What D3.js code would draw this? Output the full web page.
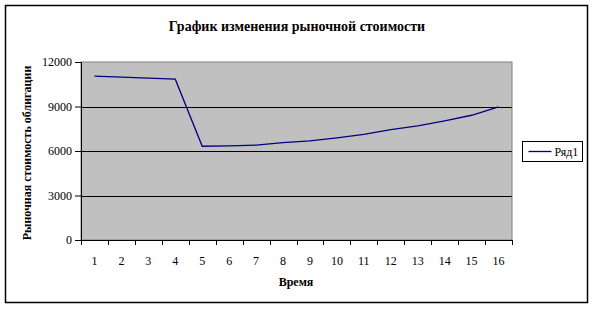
<!DOCTYPE html>
<html>
<head>
<meta charset="utf-8">
<script src="https://cdn.jsdelivr.net/npm/d3@7"></script>
<style>
  body { margin: 0; background: #fff; }
  svg text { font-family: "Liberation Serif", "DejaVu Serif", serif !important; }
</style>
</head>
<body>
<div id="chart"></div>
<script>
// categories (time periods)
const periods = ["1","2","3","4","5","6","7","8","9","10","11","12","13","14","15","16"];
// market value of the bond
const values = [11050, 10980, 10910, 10840, 6320, 6350, 6400, 6560, 6680, 6880, 7120, 7440, 7690, 8030, 8410, 8970];
const yTicks = [0, 3000, 6000, 9000, 12000];
const seriesName = "Ряд1";
const title = "График изменения рыночной стоимости";
const xTitle = "Время";
const yTitle = "Рыночная стоимость облигации";

const width = 593, height = 310;
const margin = { left: 81, right: 81, top: 62, bottom: 70 };
const plotW = 512 - margin.left;
const plotH = 240 - margin.top;

const svg = d3.select("#chart").append("svg")
  .attr("width", width)
  .attr("height", height)
  .attr("font-family", "Liberation Serif, serif");

// outer frame
svg.append("rect")
  .attr("x", 5.5).attr("y", 5.5)
  .attr("width", 582).attr("height", 297)
  .attr("fill", "#fff")
  .attr("stroke", "#000")
  .attr("stroke-width", 1.5);

svg.append("text")
  .attr("x", 297).attr("y", 31)
  .attr("text-anchor", "middle")
  .attr("font-size", 14)
  .attr("font-weight", "bold")
  .text(title);

const g = svg.append("g").attr("transform", `translate(${margin.left},${margin.top})`);

const x = d3.scaleBand().domain(periods).range([0, plotW]);
const y = d3.scaleLinear().domain([0, 12000]).range([plotH, 0]);

// plot area
g.append("rect")
  .attr("width", plotW).attr("height", plotH)
  .attr("fill", "#c0c0c0")
  .attr("stroke", "#808080")
  .attr("stroke-width", 1);

// gridlines
g.selectAll(".grid")
  .data(yTicks.filter(d => d > 0 && d < 12000))
  .enter().append("line")
  .attr("x1", 0).attr("x2", plotW)
  .attr("y1", d => Math.round(y(d)) + 0.5)
  .attr("y2", d => Math.round(y(d)) + 0.5)
  .attr("stroke", "#000");

// y axis
const yAxis = g.append("g")
  .call(d3.axisLeft(y).tickValues(yTicks).tickFormat(d3.format("d")).tickSize(6).tickPadding(3));
yAxis.attr("font-family", null);
yAxis.select(".domain").attr("stroke", "#000");
yAxis.selectAll("text").attr("font-size", 12).attr("fill", "#000");

// x axis with ticks between categories
const xAxisG = g.append("g").attr("transform", `translate(0,${plotH})`);
xAxisG.append("line")
  .attr("x1", 0).attr("x2", plotW)
  .attr("y1", 0.5).attr("y2", 0.5)
  .attr("stroke", "#000");
const edges = periods.map((p) => x(p)).concat([plotW]);
xAxisG.selectAll(".tk").data(edges).enter().append("line")
  .attr("x1", d => Math.round(d) + 0.5).attr("x2", d => Math.round(d) + 0.5)
  .attr("y1", 0).attr("y2", 5)
  .attr("stroke", "#000");
xAxisG.selectAll(".lbl").data(periods).enter().append("text")
  .attr("x", d => x(d) + x.bandwidth() / 2)
  .attr("y", 25)
  .attr("text-anchor", "middle")
  .attr("font-size", 12)
  .text(d => d);

// line
const line = d3.line()
  .x((d, i) => x(periods[i]) + x.bandwidth() / 2)
  .y(d => y(d));
g.append("path")
  .datum(values)
  .attr("fill", "none")
  .attr("stroke", "#000080")
  .attr("stroke-width", 1.3)
  .attr("d", line);

// axis titles
svg.append("text")
  .attr("x", 296).attr("y", 286)
  .attr("text-anchor", "middle")
  .attr("font-size", 12)
  .attr("font-weight", "bold")
  .text(xTitle);

svg.append("text")
  .attr("transform", `translate(31,153) rotate(-90)`)
  .attr("text-anchor", "middle")
  .attr("font-size", 12)
  .attr("font-weight", "bold")
  .text(yTitle);

// legend
const lg = svg.append("g").attr("transform", "translate(522.5,141.5)");
lg.append("rect")
  .attr("width", 60).attr("height", 20)
  .attr("fill", "#fff").attr("stroke", "#000");
lg.append("line")
  .attr("x1", 6).attr("x2", 29).attr("y1", 10).attr("y2", 10)
  .attr("stroke", "#000080").attr("stroke-width", 1.3);
lg.append("text")
  .attr("x", 32).attr("y", 14.5)
  .attr("font-size", 12)
  .text(seriesName);
</script>
</body>
</html>
